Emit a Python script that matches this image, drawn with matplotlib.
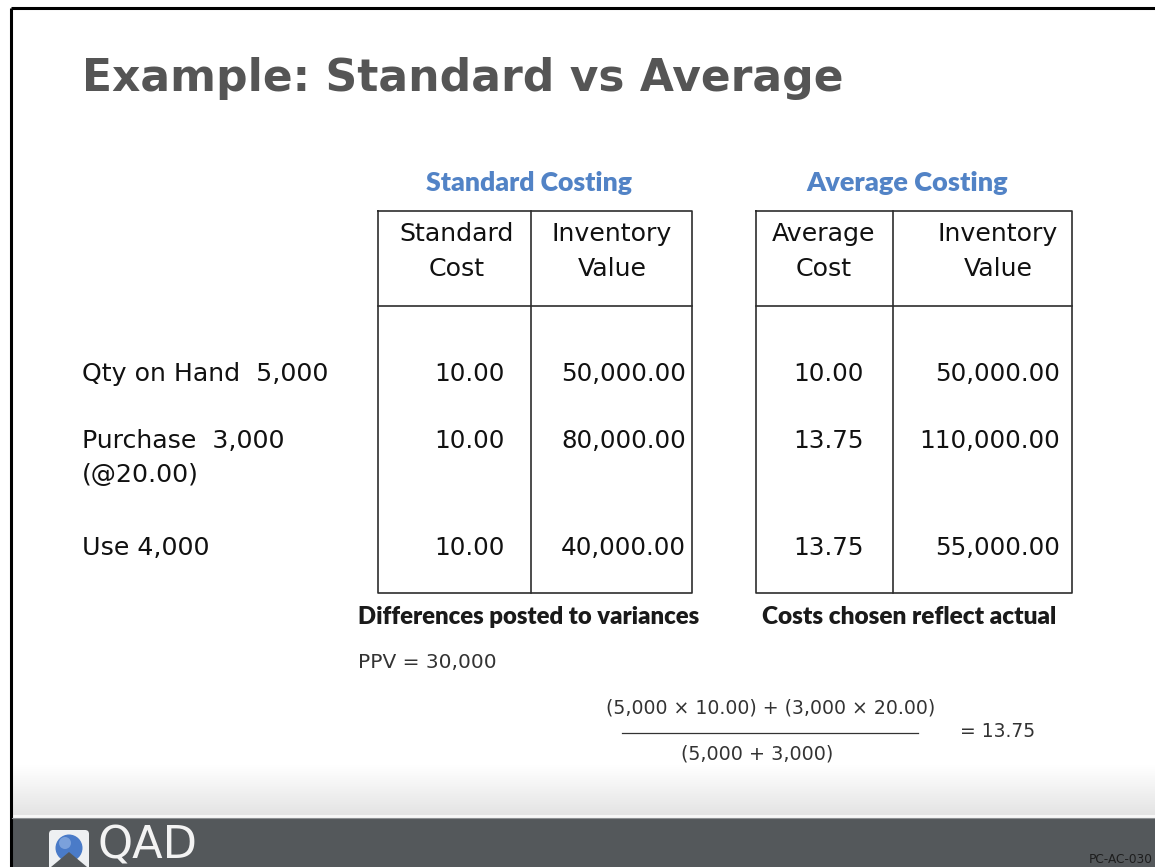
import numpy as np
import matplotlib
matplotlib.use("Agg")
import matplotlib.pyplot as plt
from matplotlib import font_manager
from matplotlib.patches import Rectangle, FancyBboxPatch, Circle, Polygon
from matplotlib.colors import LinearSegmentedColormap

# ---------------- data ----------------
title = "Example: Standard vs Average"
section_titles = ["Standard Costing", "Average Costing"]
std_headers = ["Standard\nCost", "Inventory\nValue"]
avg_headers = ["Average\nCost", "Inventory\nValue"]
row_labels = ["Qty on Hand  5,000", "Purchase  3,000\n(@20.00)", "Use 4,000"]
std_cost = [10.00, 10.00, 10.00]
std_value = [50000.00, 80000.00, 40000.00]
avg_cost = [10.00, 13.75, 13.75]
avg_value = [50000.00, 110000.00, 55000.00]
notes = ["Differences posted to variances", "Costs chosen reflect actual"]
ppv_text = "PPV = 30,000"
numerator = "(5,000 \u00d7 10.00) + (3,000 \u00d7 20.00)"
denominator = "(5,000 + 3,000)"
result_text = "= 13.75"
slide_code = "PC-AC-030"
logo_text = "QAD"

# ---------------- fonts ----------------
body = "DejaVu Sans"
names = {f.name for f in font_manager.fontManager.ttflist}
semi = "Lato" if "Lato" in names else body

W, H = 1155, 867
fig = plt.figure(figsize=(W / 100, H / 100), dpi=100)
ax = fig.add_axes([0, 0, 1, 1])
ax.set_xlim(0, W)
ax.set_ylim(H, 0)
ax.axis("off")
renderer = fig.canvas.get_renderer()


def fit(t, width):
    bb = t.get_window_extent(renderer)
    t.set_fontsize(t.get_fontsize() * width / bb.width)
    return t


# ---------------- frame ----------------
ax.plot([11, W], [8, 8], color="black", lw=2.2, solid_capstyle="butt")
ax.plot([11, 11], [8, H], color="black", lw=2.2, solid_capstyle="butt")

# ---------------- title ----------------
t = ax.text(82, 91, title, family=body, weight="bold", color="#555555",
            fontsize=32, ha="left", va="baseline")
fit(t, 763)

# ---------------- section headers ----------------
blue = "#5283C6"
for cx, s, w in zip([529, 907], section_titles, [208, 203]):
    t = ax.text(cx, 191, s, family=semi, weight="heavy", color=blue,
                fontsize=15, ha="center", va="baseline")
    fit(t, w)

# ---------------- tables ----------------
line_c = "#2e2e2e"
tables = [(378, 531, 692), (756, 893, 1072)]
top, hdr, bot = 211, 306, 593
for (l, m, r) in tables:
    ax.plot([l, r, r, l, l], [top, top, bot, bot, top], color=line_c, lw=1.2)
    ax.plot([l, r], [hdr, hdr], color=line_c, lw=1.2)
    ax.plot([m, m], [top, bot], color=line_c, lw=1.2)

hdr_x = [457, 612, 824, 998]
for x, s in zip(hdr_x, std_headers + avg_headers):
    a, b = s.split("\n")
    ax.text(x, 241, a, family=body, color="#111111", fontsize=18.2,
            ha="center", va="baseline")
    ax.text(x, 276, b, family=body, color="#111111", fontsize=18.2,
            ha="center", va="baseline")

# ---------------- rows ----------------
row_base = [381, 448, 555]
for y, lab in zip(row_base, row_labels):
    for k, part in enumerate(lab.split("\n")):
        ax.text(82, y + 34 * k, part, family=body, color="#111111",
                fontsize=18.2, ha="left", va="baseline")

fs = 17.7
for y, a, b, c, d in zip(row_base, std_cost, std_value, avg_cost, avg_value):
    ax.text(469, y, f"{a:,.2f}", family=body, color="#111111", fontsize=fs,
            ha="center", va="baseline")
    ax.text(686, y, f"{b:,.2f}", family=body, color="#111111", fontsize=fs,
            ha="right", va="baseline")
    ax.text(828, y, f"{c:,.2f}", family=body, color="#111111", fontsize=fs,
            ha="center", va="baseline")
    ax.text(1060, y, f"{d:,.2f}", family=body, color="#111111", fontsize=fs,
            ha="right", va="baseline")

# ---------------- notes ----------------
for x, s, w in zip([358, 762], notes, [342, 295]):
    t = ax.text(x, 624, s, family=semi, weight="heavy", color="#1a1a1a",
                fontsize=14, ha="left", va="baseline")
    fit(t, w)

t = ax.text(358, 668, ppv_text, family=body, color="#333333", fontsize=12,
            ha="left", va="baseline")
fit(t, 138)

# ---------------- formula ----------------
t = ax.text(771, 714, numerator, family=body, color="#333333", fontsize=12,
            ha="center", va="baseline")
fit(t, 327)
ax.plot([622, 918], [733, 733], color="#333333", lw=0.9)
t = ax.text(757, 759, denominator, family=body, color="#333333", fontsize=12,
            ha="center", va="baseline")
fit(t, 152)
t = ax.text(960, 737, result_text, family=body, color="#333333", fontsize=12,
            ha="left", va="baseline")
fit(t, 75)

# ---------------- footer ----------------
cmap = LinearSegmentedColormap.from_list("g", ["#ffffff", "#e4e4e4"])
ax.imshow(np.linspace(0, 1, 64).reshape(-1, 1), cmap=cmap, aspect="auto",
          extent=(12, W, 815, 765), zorder=0, interpolation="bilinear")
ax.add_patch(Rectangle((12, 815), W, 3, color="#f7f7f7", lw=0, zorder=1))
ax.add_patch(Rectangle((12, 818), W, H - 818, color="#54585b", lw=0, zorder=1))
ax.plot([12, W], [818, 818], color="#8d9093", lw=0.8, zorder=2)

# logo icon
ax.add_patch(FancyBboxPatch((49, 830), 40, 45, boxstyle="round,pad=0,rounding_size=4",
                            fc="#eef0f2", ec="none", zorder=3))
ax.add_patch(Circle((69, 848), 13.5, fc="#4a7bc8", ec="none", zorder=4))
ax.add_patch(Circle((65, 843), 6, fc="#9dbbe8", ec="none", alpha=0.6, zorder=4))
ax.add_patch(Polygon([(51, 867), (69, 852), (87, 867)], closed=True,
                     fc="#54585b", ec="none", zorder=5))
t = ax.text(97, 859, logo_text, family=body, color="#f3f3f3", fontsize=28,
            ha="left", va="baseline", zorder=5)
fit(t, 100)

t = ax.text(1089, 863, slide_code, family=body, color="#1e1e1e", fontsize=7,
            ha="left", va="baseline", zorder=5)
fit(t, 64)

fig.savefig("out.png", dpi=100, facecolor="white")
